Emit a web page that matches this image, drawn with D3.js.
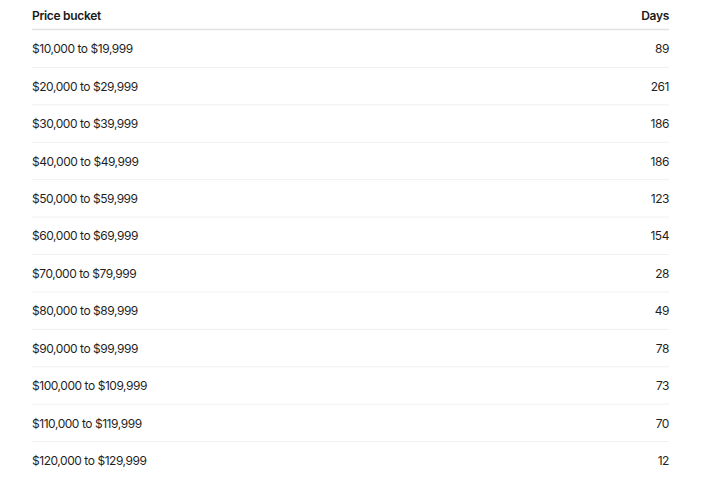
<!DOCTYPE html>
<html>
<head>
<meta charset="utf-8">
<script src="https://cdn.jsdelivr.net/npm/d3@7"></script>
<style>
  body { margin: 0; background: #fff; }
  text { font-family: Inter, "Noto Sans", sans-serif; }
</style>
</head>
<body>
<div id="table"></div>
<script>
// datos de la tabla
const columns = ["Price bucket", "Days"];
const buckets = [
  "$10,000 to $19,999", "$20,000 to $29,999", "$30,000 to $39,999",
  "$40,000 to $49,999", "$50,000 to $59,999", "$60,000 to $69,999",
  "$70,000 to $79,999", "$80,000 to $89,999", "$90,000 to $99,999",
  "$100,000 to $109,999", "$110,000 to $119,999", "$120,000 to $129,999"
];
const days = [89, 261, 186, 186, 123, 154, 28, 49, 78, 73, 70, 12];

const width = 720;
const height = 480;
const left = 32, right = 669;

const svg = d3.select("#table")
    .append("svg")
    .attr("width", width)
    .attr("height", height);

// filas
const y = d3.scaleBand()
    .domain(d3.range(buckets.length))
    .range([30, 479]);

// encabezado
svg.append("text")
    .attr("x", left).attr("y", 16.2).attr("dy", "0.35em")
    .attr("font-size", 12).attr("font-weight", 600).attr("fill", "#1a1a1a")
    .attr("letter-spacing", -0.3)
    .text(columns[0]);
svg.append("text")
    .attr("x", right).attr("y", 16.2).attr("dy", "0.35em")
    .attr("text-anchor", "end")
    .attr("font-size", 12).attr("font-weight", 600).attr("fill", "#1a1a1a")
    .attr("letter-spacing", -0.3)
    .text(columns[1]);
svg.append("line")
    .attr("x1", left).attr("x2", right)
    .attr("y1", 29.5).attr("y2", 29.5)
    .attr("stroke", "#e2e2e2").attr("stroke-width", 1.5);

const rows = svg.selectAll("g.row")
    .data(buckets)
    .enter().append("g")
    .attr("class", "row")
    .attr("transform", (d, i) => "translate(0," + y(i) + ")");

rows.append("text")
    .attr("x", left).attr("y", y.bandwidth() / 2 + 0.5).attr("dy", "0.35em")
    .attr("font-size", 12).attr("fill", "#1f1f1f")
    .attr("letter-spacing", -0.45)
    .text(d => d);

rows.append("text")
    .attr("x", right).attr("y", y.bandwidth() / 2 + 0.5).attr("dy", "0.35em")
    .attr("text-anchor", "end")
    .attr("font-size", 12).attr("fill", "#1f1f1f")
    .attr("letter-spacing", -0.45)
    .text((d, i) => days[i]);

// separadores
rows.filter((d, i) => i < buckets.length - 1)
    .append("line")
    .attr("x1", left).attr("x2", right)
    .attr("y1", y.bandwidth()).attr("y2", y.bandwidth())
    .attr("stroke", "#f0f0f0").attr("stroke-width", 1);
</script>
</body>
</html>
